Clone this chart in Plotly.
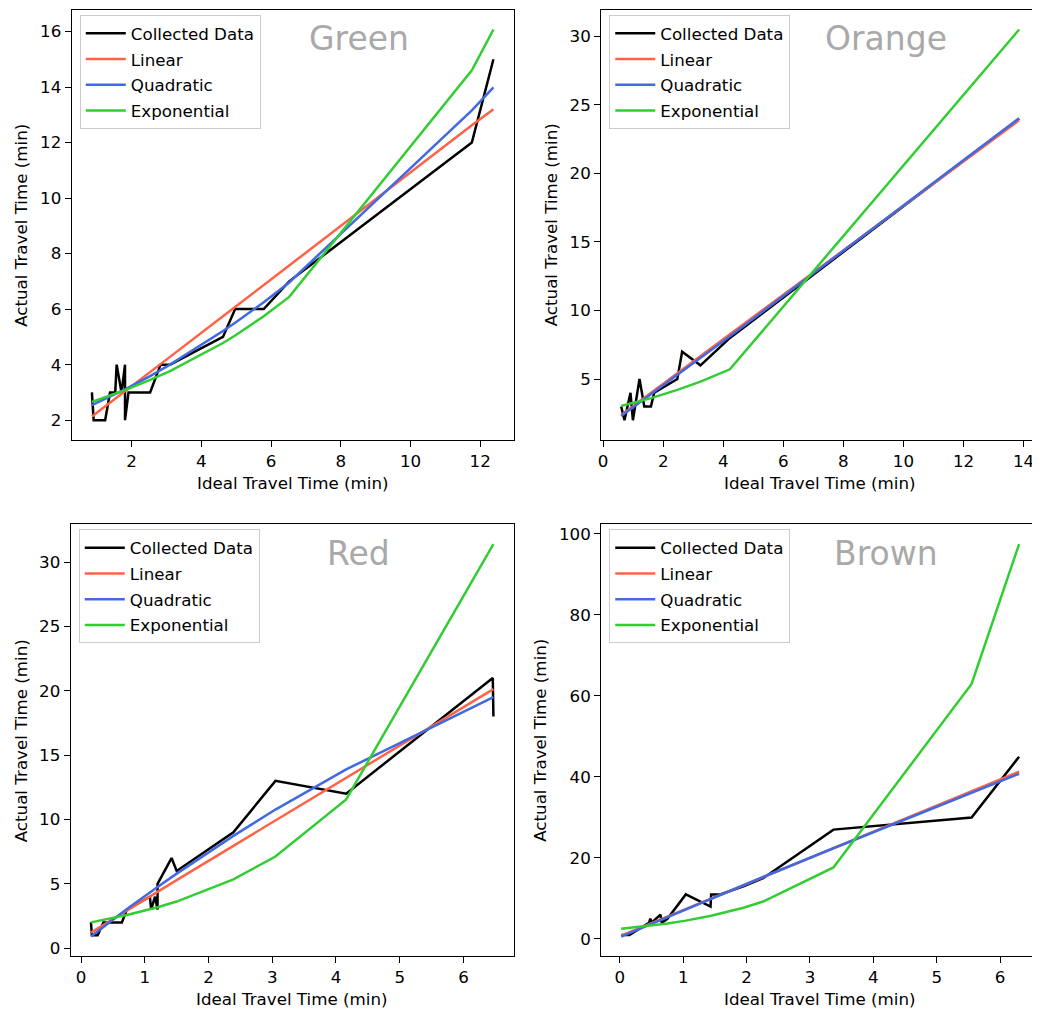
import plotly.graph_objects as go

# ---------------- data ----------------
series_names = ["Collected Data", "Linear", "Quadratic", "Exponential"]
panel_titles = ["Green", "Orange", "Red", "Brown"]

# Green line
g_x = [0.86, 0.91, 1.24, 1.38, 1.53, 1.57, 1.71, 1.81, 1.81, 1.91, 2.53, 2.83, 3.10, 4.62, 4.97, 5.79, 6.52, 11.76, 12.38]
g_y = [3, 2, 2, 3, 3, 4, 3, 4, 2, 3, 3, 4, 4, 5, 6, 6, 7, 12, 15]
g_fx = [0.86, 1.24, 1.57, 1.81, 2.53, 2.83, 3.10, 4.62, 4.97, 5.79, 6.52, 11.76, 12.38]
g_lin = [2.13, 2.49, 2.80, 3.04, 3.73, 4.02, 4.28, 5.74, 6.08, 6.87, 7.57, 12.62, 13.20]
g_quad = [2.54, 2.76, 2.96, 3.11, 3.59, 3.81, 4.00, 5.21, 5.51, 6.25, 6.96, 13.16, 13.99]
g_exp = [2.66, 2.82, 2.97, 3.08, 3.45, 3.61, 3.77, 4.78, 5.05, 5.74, 6.44, 14.60, 16.07]

# Orange line
o_x = [0.60, 0.71, 0.91, 0.99, 1.21, 1.37, 1.59, 1.70, 2.47, 2.63, 3.24, 4.22, 13.85]
o_y = [3, 2, 4, 2, 5, 3, 3, 4, 5, 7, 6, 8, 24]
o_fx = [0.60, 0.91, 1.21, 1.59, 2.47, 2.63, 3.24, 4.22, 13.85]
o_lin = [2.38, 2.88, 3.37, 3.99, 5.41, 5.67, 6.66, 8.26, 23.88]
o_quad = [2.30, 2.80, 3.29, 3.90, 5.30, 5.56, 6.54, 8.12, 24.02]
o_exp = [3.04, 3.21, 3.38, 3.61, 4.21, 4.33, 4.81, 5.71, 30.50]

# Red line
r_x = [0.155, 0.17, 0.26, 0.35, 0.48, 0.64, 0.72, 1.08, 1.10, 1.16, 1.20, 1.20, 1.42, 1.50, 2.39, 3.05, 4.16, 6.46, 6.47]
r_y = [2, 1, 1, 2, 2, 2, 3, 4, 3, 4, 3, 5, 7, 6, 9, 13, 12, 21, 18]
r_fx = [0.155, 0.72, 1.20, 1.50, 2.39, 3.05, 4.16, 6.47]
r_lin = [1.20, 2.94, 4.38, 5.28, 7.95, 9.93, 13.26, 20.13]
r_quad = [0.90, 3.04, 4.75, 5.79, 8.72, 10.77, 13.89, 19.50]
r_exp = [2.00, 2.58, 3.18, 3.62, 5.34, 7.12, 11.56, 31.40]

# Brown line
b_x = [0.02, 0.15, 0.46, 0.48, 0.50, 0.64, 0.66, 0.75, 1.04, 1.43, 1.44, 1.58, 1.95, 2.26, 3.37, 5.55, 6.30]
b_y = [1, 1, 4, 5, 4, 6, 4, 5, 11, 8, 11, 11, 13, 15, 27, 30, 45]
b_fx = [0.02, 0.46, 0.75, 1.04, 1.44, 1.95, 2.26, 3.37, 5.55, 6.30]
b_lin = [0.80, 3.64, 5.51, 7.38, 9.96, 13.25, 15.25, 22.41, 36.47, 41.31]
b_quad = [0.60, 3.50, 5.45, 7.38, 10.00, 13.30, 15.30, 22.40, 36.20, 40.80]
b_exp = [2.50, 3.23, 3.83, 4.53, 5.72, 7.71, 9.24, 17.65, 62.96, 97.50]

x_dticks = [2, 2, 1, 1]
y_dticks = [2, 5, 5, 20]

# ---------------- styling / layout ----------------
OFF = 8                      # page body margin of the html page
W, H = 1040 - OFF, 1015 - OFF
FONT = "DejaVu Sans"
FS = 16.7
colors = ["black", "tomato", "royalblue", "limegreen"]
LW = 2.5

# panel boxes in page pixels: (left, right, top, bottom)
boxes_page = [(69, 512, 9, 440), (600, 1039, 9, 440), (68, 512, 525, 958), (600, 1039, 525, 958)]
ytitle_page_x = [18, 549, 18, 539]
boxes = [(l - OFF, r - OFF, t - OFF, b - OFF) for (l, r, t, b) in boxes_page]
ytitle_x = [v - OFF for v in ytitle_page_x]

panels = [
    (g_x, g_y, g_fx, g_lin, g_quad, g_exp),
    (o_x, o_y, o_fx, o_lin, o_quad, o_exp),
    (r_x, r_y, r_fx, r_lin, r_quad, r_exp),
    (b_x, b_y, b_fx, b_lin, b_quad, b_exp),
]

fig = go.Figure()
annotations = []
layout_extra = {}

for i, (dx, dy, fx, lin, quad, ex) in enumerate(panels):
    k = "" if i == 0 else str(i + 1)
    xa, ya = "x" + k, "y" + k
    leg = "legend" + k
    series = [(dx, dy), (fx, lin), (fx, quad), (fx, ex)]
    for j, (sx, sy) in enumerate(series):
        fig.add_trace(go.Scatter(
            x=sx, y=sy, mode="lines", name=series_names[j],
            line=dict(color=colors[j], width=LW),
            xaxis=xa, yaxis=ya, legend=leg, legendgroup=f"p{i}s{j}",
        ))
    allx = list(dx) + list(fx)
    ally = list(dy) + list(lin) + list(quad) + list(ex)
    x0, x1 = min(allx), max(allx)
    y0, y1 = min(ally), max(ally)
    px, py = 0.05 * (x1 - x0), 0.05 * (y1 - y0)
    L, R, T, B = boxes[i]
    axis_common = dict(
        showline=True, linecolor="black", linewidth=1.3, mirror=True,
        ticks="outside", ticklen=6, tickwidth=1.3, tickcolor="black",
        showgrid=False, zeroline=False,
        tickfont=dict(family=FONT, size=FS, color="black"),
        tick0=0,
    )
    layout_extra["xaxis" + k] = dict(
        axis_common, domain=[L / W, R / W], range=[x0 - px, x1 + px],
        dtick=x_dticks[i], anchor=ya,
    )
    layout_extra["yaxis" + k] = dict(
        axis_common, domain=[1 - B / H, 1 - T / H], range=[y0 - py, y1 + py],
        dtick=y_dticks[i], anchor=xa,
    )
    layout_extra[leg] = dict(
        x=(L + 8) / W, y=1 - (T + 5) / H, xanchor="left", yanchor="top",
        xref="paper", yref="paper",
        bgcolor="rgba(255,255,255,0.8)", bordercolor="#cccccc", borderwidth=1,
        font=dict(family=FONT, size=FS, color="black"),
        tracegroupgap=1, itemwidth=40,
    )
    # panel title
    annotations.append(dict(
        text=panel_titles[i], xref=xa + " domain", yref=ya + " domain",
        x=0.65, y=0.933, xanchor="center", yanchor="middle", showarrow=False,
        font=dict(family=FONT, size=33, color="darkgray"),
    ))
    # axis titles
    annotations.append(dict(
        text="Ideal Travel Time (min)", xref="paper", yref="paper",
        x=(L + R) / 2 / W, y=1 - (B + 43) / H, xanchor="center", yanchor="middle",
        showarrow=False, font=dict(family=FONT, size=FS, color="black"),
    ))
    annotations.append(dict(
        text="Actual Travel Time (min)", xref="paper", yref="paper",
        x=ytitle_x[i] / W, y=1 - (T + B) / 2 / H, xanchor="center", yanchor="middle",
        textangle=-90, showarrow=False, font=dict(family=FONT, size=FS, color="black"),
    ))

fig.update_layout(
    width=W, height=H,
    margin=dict(l=0, r=0, t=0, b=0),
    paper_bgcolor="white", plot_bgcolor="white",
    showlegend=True,
    annotations=annotations,
    font=dict(family=FONT, size=FS, color="black"),
    **layout_extra,
)

fig.write_html("out.html")
